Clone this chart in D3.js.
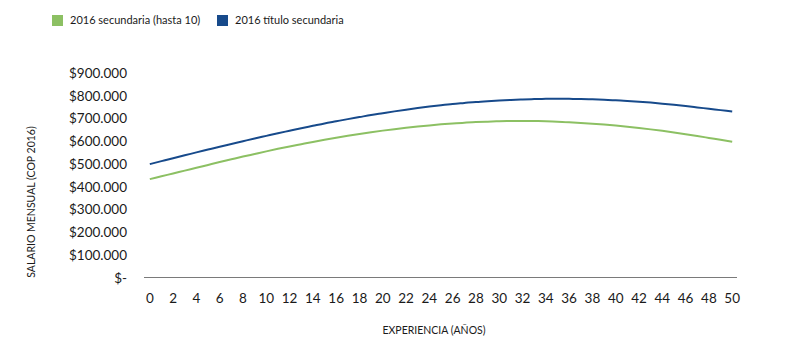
<!DOCTYPE html>
<html>
<head>
<meta charset="utf-8">
<script src="https://cdn.jsdelivr.net/npm/d3@7"></script>
<style>
  html, body { margin: 0; padding: 0; background: #fff; }
  svg { display: block; }
  text { font-family: "Lato", "Open Sans", sans-serif; fill: #1a1a1a; }
</style>
</head>
<body>
<svg id="chart" width="786" height="351"></svg>
<script>
// ---- data ----
const years = d3.range(0, 51);
const xTickLabels = d3.range(0, 51, 2);
const yTicks = [0, 100000, 200000, 300000, 400000, 500000, 600000, 700000, 800000, 900000];
const seriesNames = ["2016 secundaria (hasta 10)", "2016 título secundaria"];
const secundariaHasta10 = [
  434000, 446500, 459000, 471500, 484000, 496500, 509000, 521000, 533000, 544500,
  556000, 567000, 577500, 587500, 597500, 607000, 616000, 624500, 632500, 640000,
  647000, 653500, 659500, 665000, 670000, 674500, 678500, 682000, 684500, 686500,
  688000, 689000, 689500, 689000, 688000, 686500, 684000, 681000, 677500, 673500,
  669000, 664000, 658500, 652500, 646000, 639000, 631500, 623500, 615000, 606500,
  598000
];
const tituloSecundaria = [
  500000, 513000, 526000, 538500, 551500, 564000, 576500, 588500, 600500, 612500,
  624000, 635500, 646500, 657500, 668000, 678500, 688000, 697500, 706500, 715500,
  723500, 731500, 739000, 746000, 752500, 758500, 764000, 768500, 773000, 776500,
  779500, 782000, 784000, 785500, 786500, 787000, 786500, 786000, 784500, 782500,
  780500, 777500, 774000, 770000, 765500, 760500, 755000, 749000, 743000, 737000,
  731000
];
const colors = ["#8cc063", "#174a8b"];

// ---- layout ----
const svg = d3.select("#chart");
const x = d3.scalePoint().domain(years).range([149.8, 732.2]);
const y = d3.scaleLinear().domain([0, 900000]).range([278, 73]);

const fmt = v => v === 0 ? "$-" : "$" + d3.format(",")(v).replace(/,/g, ".");

// y tick labels
svg.append("g").selectAll("text").data(yTicks).join("text")
  .attr("x", 127)
  .attr("y", d => y(d))
  .attr("dy", "0.35em")
  .attr("text-anchor", "end")
  .style("font-size", "13.5px")
  .text(fmt);

// baseline axis
svg.append("line")
  .attr("x1", 144).attr("x2", 737)
  .attr("y1", 277.5).attr("y2", 277.5)
  .attr("stroke", "#7a7a7a").attr("stroke-width", 1);

// x tick labels
svg.append("g").selectAll("text").data(xTickLabels).join("text")
  .attr("x", d => x(d))
  .attr("y", 298)
  .attr("dy", "0.35em")
  .attr("text-anchor", "middle")
  .style("font-size", "13.5px")
  .text(d => d);

// axis titles
svg.append("text")
  .attr("x", 434).attr("y", 330).attr("dy", "0.35em")
  .attr("text-anchor", "middle")
  .style("font-size", "10.5px")
  .text("EXPERIENCIA (AÑOS)");

svg.append("text")
  .attr("transform", "translate(31,202) rotate(-90)")
  .attr("dy", "0.35em")
  .attr("text-anchor", "middle")
  .style("font-size", "10.5px")
  .text("SALARIO MENSUAL (COP 2016)");

// lines
const line = d3.line().x((d, i) => x(years[i])).y(d => y(d)).curve(d3.curveMonotoneX);
[secundariaHasta10, tituloSecundaria].forEach((s, i) => {
  svg.append("path")
    .datum(s)
    .attr("fill", "none")
    .attr("stroke", colors[i])
    .attr("stroke-width", 2)
    .attr("d", line);
});

// legend
const legendX = [52, 217];
seriesNames.forEach((n, i) => {
  const g = svg.append("g").attr("transform", `translate(${legendX[i]},15)`);
  g.append("rect").attr("width", 11).attr("height", 11).attr("fill", colors[i]);
  g.append("text").attr("x", 18).attr("y", 5.5).attr("dy", "0.35em")
    .style("font-size", "11px").text(n);
});
</script>
</body>
</html>
